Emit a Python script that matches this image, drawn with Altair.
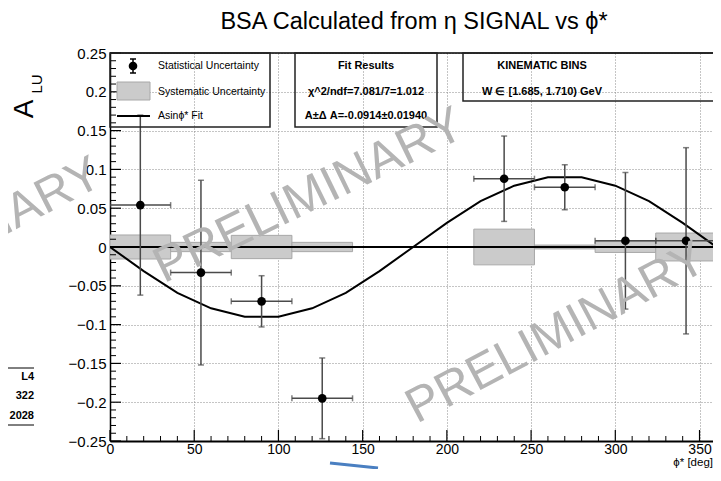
import altair as alt
import pandas as pd

# ---------------- data ----------------
phi_centers = [18, 54, 90, 126, 234, 270, 306, 342]
alu_values = [0.054, -0.033, -0.070, -0.195, 0.088, 0.077, 0.008, 0.008]
stat_errors = [0.116, 0.119, 0.033, 0.052, 0.055, 0.029, 0.088, 0.120]
bin_half_width = [18, 18, 18, 18, 18, 18, 18, 18]

sys_bin_low = [0, 36, 72, 108, 216, 252, 288, 324]
sys_bin_high = [36, 72, 108, 144, 252, 288, 324, 360]
sys_errors = [0.0155, 0.006, 0.015, 0.006, 0.023, 0.0025, 0.007, 0.018]

fit_phi = [0, 20, 40, 60, 80, 100, 120, 140, 160, 180, 200, 220, 240, 260, 280, 300, 320, 340, 360]
fit_values = [0.0, -0.031, -0.059, -0.079, -0.090, -0.090, -0.079, -0.059, -0.031, 0.0,
              0.031, 0.059, 0.079, 0.090, 0.090, 0.079, 0.059, 0.031, 0.0]

x_major = [0, 50, 100, 150, 200, 250, 300, 350]
x_minor = [10, 20, 30, 40, 60, 70, 80, 90, 110, 120, 130, 140, 160, 170, 180, 190,
           210, 220, 230, 240, 260, 270, 280, 290, 310, 320, 330, 340]
y_major = [-0.25, -0.2, -0.15, -0.1, -0.05, 0.0, 0.05, 0.1, 0.15, 0.2, 0.25]
y_minor = [round(-0.25 + 0.01 * i, 2) for i in range(51) if i % 5 != 0]

title_text = "BSA Calculated from \u03b7 SIGNAL vs \u03d5*"
legend_labels = ["Statistical Uncertainty", "Systematic Uncertainty", "Asin\u03d5* Fit"]
fit_lines = ["Fit Results", "\u03c7^2/ndf=7.081/7=1.012", "A\u00b1\u0394 A=-0.0914\u00b10.01940"]
kin_lines = ["KINEMATIC BINS", "W \u2208 [1.685, 1.710) GeV"]
side_lines = ["L4", "322", "2028"]

# ---------------- tables ----------------
pts = pd.DataFrame({
    "phi": phi_centers, "A": alu_values, "err": stat_errors, "hw": bin_half_width,
})
pts["lo"] = pts["phi"] - pts["hw"]
pts["hi"] = pts["phi"] + pts["hw"]
pts["ylo"] = pts["A"] - pts["err"]
pts["yhi"] = pts["A"] + pts["err"]

sys_df = pd.DataFrame({"x0": sys_bin_low, "x1": sys_bin_high, "s": sys_errors})
sys_df["ylo"] = -sys_df["s"]
sys_df["yhi"] = sys_df["s"]

fit_df = pd.DataFrame({"phi": fit_phi, "A": fit_values})
one = pd.DataFrame({"d": [0]})

W, H = 603, 388
TOP = 45          # plot top at page y = 53
DY = 1            # offset so that decorations keep their page positions
FONT = "Liberation Sans"
BOXFONT = "Liberation Sans"
BOXSIZE = 10.5

xs = alt.Scale(domain=[0, 358], nice=False, zero=False)
ys = alt.Scale(domain=[-0.25, 0.25], nice=False, zero=False)

x_axis = alt.Axis(values=x_major, title=None, grid=True, gridDash=[1, 2], gridColor="#8a8a8a",
                  gridWidth=1, ticks=False, tickSize=0, labelPadding=1, labelFontSize=14,
                  labelFont=FONT, labelColor="black", domainColor="black", domainWidth=2,
                  format="d", labelFlush=False, labelOverlap=False)
y_axis = alt.Axis(values=y_major, title=None, grid=True, gridDash=[1, 2], gridColor="#8a8a8a",
                  gridWidth=1, ticks=False, tickSize=0, labelPadding=4, labelFontSize=15,
                  labelFont=FONT, labelColor="black", domainColor="black", domainWidth=1.5,
                  format=".2~f", labelOverlap=False)


def X(field):
    return alt.X(field, scale=xs, axis=x_axis)


def Y(field):
    return alt.Y(field, scale=ys, axis=y_axis)


# systematic boxes
sys_layer = alt.Chart(sys_df).mark_rect(fill="#cbcbcb", stroke="#a8a8a8", strokeWidth=1, clip=True).encode(
    x=X("x0:Q"), x2="x1:Q", y=Y("ylo:Q"), y2="yhi:Q",
)

# zero line
zero_layer = alt.Chart(one).mark_rule(color="black", strokeWidth=2).encode(
    x=alt.value(0), x2=alt.value(W), y=Y("d:Q")
)

# fit curve
fit_layer = alt.Chart(fit_df).mark_line(color="black", strokeWidth=2, clip=True).encode(
    x=X("phi:Q"), y=Y("A:Q")
)

ebar_col = "#4a4a4a"
vbar = alt.Chart(pts).mark_rule(color=ebar_col, strokeWidth=1.5, clip=True).encode(
    x=X("phi:Q"), y=Y("ylo:Q"), y2="yhi:Q"
)
hbar = alt.Chart(pts).mark_rule(color=ebar_col, strokeWidth=1.5, clip=True).encode(
    x=X("lo:Q"), x2="hi:Q", y=Y("A:Q")
)
cap_top = alt.Chart(pts).mark_tick(color=ebar_col, orient="horizontal", size=6, thickness=1.5, clip=True).encode(
    x=X("phi:Q"), y=Y("yhi:Q")
)
cap_bot = alt.Chart(pts).mark_tick(color=ebar_col, orient="horizontal", size=6, thickness=1.5, clip=True).encode(
    x=X("phi:Q"), y=Y("ylo:Q")
)
cap_l = alt.Chart(pts).mark_tick(color=ebar_col, orient="vertical", size=6, thickness=1.5, clip=True).encode(
    x=X("lo:Q"), y=Y("A:Q")
)
cap_r = alt.Chart(pts).mark_tick(color=ebar_col, orient="vertical", size=6, thickness=1.5, clip=True).encode(
    x=X("hi:Q"), y=Y("A:Q")
)
dots = alt.Chart(pts).mark_circle(color="black", size=75, opacity=1).encode(
    x=X("phi:Q"), y=Y("A:Q")
)

# inward ticks (ROOT style)
ytick_major = alt.Chart(pd.DataFrame({"v": y_major})).mark_rule(color="black", strokeWidth=1.2).encode(
    y=Y("v:Q"), x=alt.value(0), x2=alt.value(11)
)
ytick_minor = alt.Chart(pd.DataFrame({"v": y_minor})).mark_rule(color="black", strokeWidth=1).encode(
    y=Y("v:Q"), x=alt.value(0), x2=alt.value(6)
)
xtick_major = alt.Chart(pd.DataFrame({"v": x_major})).mark_rule(color="black", strokeWidth=1.2).encode(
    x=X("v:Q"), y=alt.value(H), y2=alt.value(H - 11)
)
xtick_minor = alt.Chart(pd.DataFrame({"v": x_minor})).mark_rule(color="black", strokeWidth=1).encode(
    x=X("v:Q"), y=alt.value(H), y2=alt.value(H - 5)
)
top_frame = alt.Chart(one).mark_rule(color="black", strokeWidth=1.5).encode(
    x=alt.value(0), x2=alt.value(W), y=alt.value(0)
)


def txt(s, x, y, size=BOXSIZE, bold=False, align="left", font=BOXFONT, color="black", angle=0, baseline="middle"):
    return alt.Chart(one).mark_text(
        text=s, fontSize=size, fontWeight="bold" if bold else "normal", align=align,
        font=font, color=color, angle=angle, baseline=baseline
    ).encode(x=alt.value(x), y=alt.value(y))


def box(x0, x1, y0, y1):
    return alt.Chart(one).mark_rect(fillOpacity=0, stroke="#222222", strokeWidth=1.5).encode(
        x=alt.value(x0), x2=alt.value(x1), y=alt.value(y0), y2=alt.value(y1)
    )


# legend box
leg = [box(0, 160, 0, 74)]
leg.append(alt.Chart(one).mark_rule(color="black", strokeWidth=1.5).encode(
    x=alt.value(23), y=alt.value(6), y2=alt.value(20)))
leg.append(alt.Chart(one).mark_rule(color="black", strokeWidth=1.5).encode(
    x=alt.value(20), x2=alt.value(26), y=alt.value(6)))
leg.append(alt.Chart(one).mark_rule(color="black", strokeWidth=1.5).encode(
    x=alt.value(20), x2=alt.value(26), y=alt.value(20)))
leg.append(alt.Chart(one).mark_circle(color="black", size=75, opacity=1).encode(
    x=alt.value(23), y=alt.value(13)))
leg.append(alt.Chart(one).mark_rect(fill="#cbcbcb", stroke="#a8a8a8").encode(
    x=alt.value(7), x2=alt.value(40), y=alt.value(29), y2=alt.value(47)))
leg.append(alt.Chart(one).mark_rule(color="black", strokeWidth=2).encode(
    x=alt.value(7), x2=alt.value(40), y=alt.value(63)))
for s, yy in zip(legend_labels, [13, 39, 63]):
    leg.append(txt(s, 48, yy))

# fit results box
fitbox = [box(185, 327, 0, 74)]
for s, yy in zip(fit_lines, [13, 39, 63]):
    fitbox.append(txt(s, 256, yy, size=11, bold=True, align="center"))

# kinematic box
kinbox = [box(353, W + 10, 0, 48)]
for s, yy in zip(kin_lines, [13, 39]):
    kinbox.append(txt(s, 432, yy, size=11, bold=True, align="center"))

# partial side box at the far left
side = [
    alt.Chart(one).mark_rule(color="black", strokeWidth=1).encode(x=alt.value(-102), x2=alt.value(-76), y=alt.value(314 + DY)),
    alt.Chart(one).mark_rule(color="black", strokeWidth=1).encode(x=alt.value(-102), x2=alt.value(-76), y=alt.value(371 + DY)),
]
for s, yy in zip(side_lines, [323, 342, 362]):
    side.append(txt(s, -76, yy + DY, size=11, bold=True, align="right", font=FONT))

# titles
titles = [
    txt(title_text, 304, -24, size=23.5, align="center", font=FONT, baseline="alphabetic"),
    txt("A", -77, 56, size=28, align="center", font=FONT, angle=270, baseline="alphabetic"),
    txt("LU", -68, 31, size=15, align="center", font=FONT, angle=270, baseline="alphabetic"),
    txt("\u03d5* [deg]", W, 413, size=11.5, align="right", font=FONT, baseline="alphabetic"),
]

# watermarks
wm_col = "#b4b4b4"
marks = [
    txt("PRELIMINARY", 199, 142 + DY, size=50, align="center", font=FONT, color=wm_col, angle=334),
    txt("PRELIMINARY", 446, 279 + DY, size=49, align="center", font=FONT, color=wm_col, angle=332),
    txt("PRELIMINARY", -5, 130 + DY, size=49, align="right", font=FONT, color=wm_col, angle=333, baseline="alphabetic"),
]

arrow = alt.Chart(one).mark_rule(color="#4a7fc1", strokeWidth=3).encode(
    x=alt.value(220), x2=alt.value(268), y=alt.value(410), y2=alt.value(415)
)

layers = [sys_layer, zero_layer, fit_layer, vbar, hbar, cap_top, cap_bot, cap_l, cap_r, dots,
          ytick_major, ytick_minor, xtick_major, xtick_minor, top_frame] + leg + fitbox + kinbox + side + titles + marks + [arrow]

chart = alt.layer(*layers).properties(
    width=W, height=H,
    autosize=alt.AutoSizeParams(type="none"),
    padding={"left": 102, "top": TOP, "right": 0, "bottom": 461 - TOP - H},
    background="white",
).configure_view(stroke=None)

chart.save("out.html", embed_options={"renderer": "svg", "actions": False})
